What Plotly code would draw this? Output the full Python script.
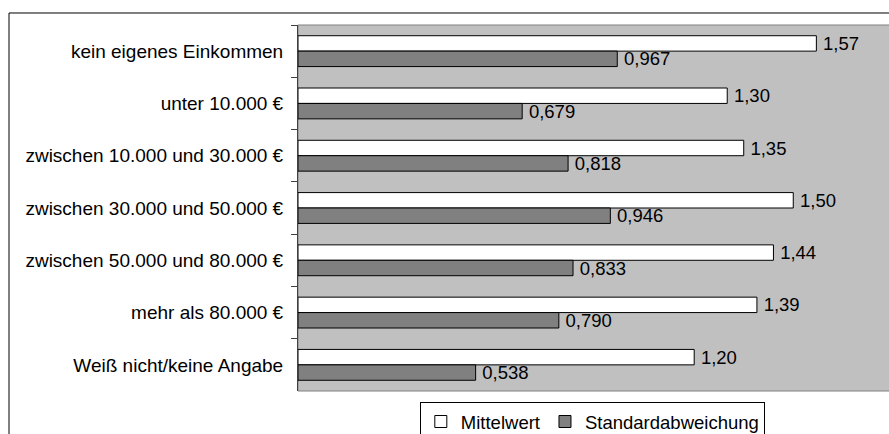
import plotly.graph_objects as go

# categories top to bottom
categories = [
    "kein eigenes Einkommen",
    "unter 10.000 €",
    "zwischen 10.000 und 30.000 €",
    "zwischen 30.000 und 50.000 €",
    "zwischen 50.000 und 80.000 €",
    "mehr als 80.000 €",
    "Weiß nicht/keine Angabe",
]
mittelwert = [1.57, 1.30, 1.35, 1.50, 1.44, 1.39, 1.20]
standardabweichung = [0.967, 0.679, 0.818, 0.946, 0.833, 0.790, 0.538]

FONT = "Liberation Sans, Arial, sans-serif"

fig = go.Figure()

# thin space in front of the values gives the same gap as the original labels
fig.add_trace(go.Bar(
    name="Mittelwert",
    y=categories,
    x=mittelwert,
    orientation="h",
    marker=dict(color="white", line=dict(color="black", width=1)),
    texttemplate="\u2009%{x:.2f}",
    textposition="outside",
    constraintext="none",
    textfont=dict(family=FONT, size=18.5, color="black"),
    cliponaxis=False,
))
fig.add_trace(go.Bar(
    name="Standardabweichung",
    y=categories,
    x=standardabweichung,
    orientation="h",
    marker=dict(color="#808080", line=dict(color="black", width=1)),
    texttemplate="\u2009%{x:.3f}",
    textposition="outside",
    constraintext="none",
    textfont=dict(family=FONT, size=18.5, color="black"),
    cliponaxis=False,
))

fig.update_layout(
    width=889,
    height=434,
    barmode="group",
    bargap=0.41,
    bargroupgap=0,
    separators=",.",
    paper_bgcolor="white",
    plot_bgcolor="#c0c0c0",
    # legend is cut off at the bottom like in the original, so no auto-expanding
    margin=dict(l=298, r=0, t=25, b=43, autoexpand=False),
    font=dict(family=FONT, size=19, color="black"),
    xaxis=dict(
        range=[0, 1.79],
        showticklabels=False,
        ticks="",
        showgrid=False,
        zeroline=False,
    ),
    yaxis=dict(
        autorange="reversed",
        tickson="boundaries",
        ticks="outside",
        ticklen=6,
        tickcolor="#404040",
        showline=True,
        linecolor="#404040",
        linewidth=1,
        showgrid=False,
        tickfont=dict(family=FONT, size=19, color="black"),
        ticklabelstandoff=10,
        automargin=False,
    ),
    legend=dict(
        orientation="h",
        x=0.498,
        xanchor="center",
        y=-0.03,
        yanchor="top",
        bordercolor="black",
        borderwidth=1,
        font=dict(family=FONT, size=18.5),
        itemwidth=30,
        traceorder="normal",
    ),
    showlegend=True,
)

# plot area border (top/bottom grey lines)
fig.add_shape(type="rect", xref="paper", yref="paper", x0=0, x1=1.02, y0=0, y1=1,
              line=dict(color="#808080", width=1), layer="below")
# outer chart border
fig.add_shape(type="rect", xref="paper", yref="paper", x0=-0.489, x1=1.05, y0=-0.3, y1=1.0328,
              line=dict(color="black", width=1))

# drop the default body margin so the figure sits at the page corner
fig.write_html("out.html", config={"displayModeBar": False},
               post_script="document.body.style.margin='0';")
